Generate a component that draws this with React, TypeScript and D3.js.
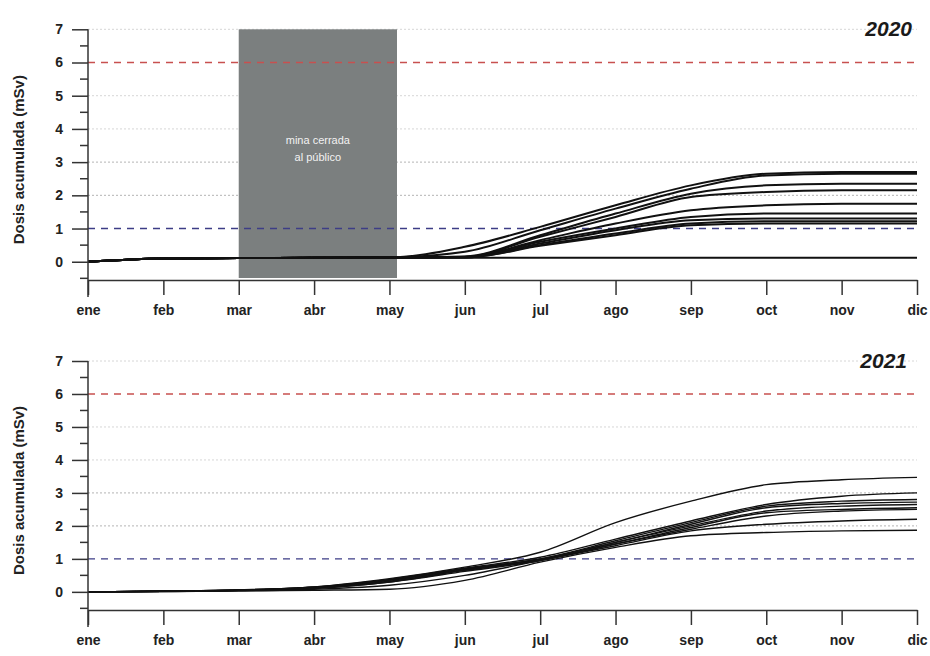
import React, { useEffect, useRef } from 'react';
import * as d3 from 'd3';

const months = ['ene', 'feb', 'mar', 'abr', 'may', 'jun', 'jul', 'ago', 'sep', 'oct', 'nov', 'dic'];
const yTicks = [0, 1, 2, 3, 4, 5, 6, 7];
const yMinorTicks = [-0.5, 0.5, 1.5, 2.5, 3.5, 4.5, 5.5, 6.5];
const gridLevels = [2, 3, 4, 5, 7];
const limitLow = 1;
const limitHigh = 6;

// 2020: mine closed from march to may
const closedFrom = 2;
const closedTo = 4.1;
const closedLabel = ['mina cerrada', 'al público'];

const d2020a = [0, 0.1, 0.11, 0.12, 0.13, 0.45, 1.05, 1.7, 2.3, 2.65, 2.7, 2.7];
const d2020b = [0, 0.1, 0.11, 0.12, 0.13, 0.3, 0.95, 1.6, 2.2, 2.6, 2.65, 2.65];
const d2020c = [0, 0.1, 0.11, 0.12, 0.13, 0.16, 0.8, 1.45, 2.05, 2.3, 2.35, 2.35];
const d2020d = [0, 0.1, 0.11, 0.12, 0.13, 0.15, 0.75, 1.35, 1.95, 2.1, 2.15, 2.15];
const d2020e = [0, 0.1, 0.11, 0.12, 0.13, 0.14, 0.65, 1.15, 1.55, 1.7, 1.75, 1.75];
const d2020f = [0, 0.1, 0.11, 0.12, 0.13, 0.14, 0.6, 1.0, 1.35, 1.45, 1.45, 1.45];
const d2020g = [0, 0.1, 0.11, 0.12, 0.13, 0.14, 0.55, 0.95, 1.25, 1.3, 1.3, 1.3];
const d2020h = [0, 0.1, 0.11, 0.12, 0.13, 0.13, 0.5, 0.85, 1.15, 1.22, 1.22, 1.22];
const d2020i = [0, 0.1, 0.11, 0.12, 0.13, 0.13, 0.48, 0.8, 1.1, 1.15, 1.15, 1.15];
const d2020j = [0, 0.1, 0.11, 0.12, 0.12, 0.12, 0.12, 0.12, 0.12, 0.12, 0.12, 0.12];

const d2021a = [0, 0.02, 0.06, 0.15, 0.4, 0.75, 1.2, 2.1, 2.75, 3.25, 3.4, 3.47];
const d2021b = [0, 0.02, 0.06, 0.15, 0.38, 0.72, 1.05, 1.6, 2.15, 2.65, 2.9, 3.0];
const d2021c = [0, 0.02, 0.05, 0.14, 0.36, 0.7, 1.0, 1.55, 2.1, 2.6, 2.75, 2.8];
const d2021d = [0, 0.02, 0.05, 0.13, 0.35, 0.68, 1.0, 1.5, 2.05, 2.55, 2.68, 2.72];
const d2021e = [0, 0.02, 0.05, 0.12, 0.32, 0.66, 0.98, 1.5, 2.0, 2.45, 2.6, 2.65];
const d2021f = [0, 0.02, 0.05, 0.12, 0.3, 0.65, 0.97, 1.45, 1.95, 2.4, 2.5, 2.55];
const d2021g = [0, 0.02, 0.04, 0.1, 0.3, 0.62, 0.95, 1.45, 1.9, 2.3, 2.45, 2.5];
const d2021h = [0, 0.01, 0.03, 0.08, 0.2, 0.5, 0.95, 1.4, 1.85, 2.05, 2.15, 2.2];
const d2021i = [0, 0.01, 0.03, 0.05, 0.08, 0.35, 0.9, 1.35, 1.7, 1.8, 1.85, 1.87];

const series2020 = [d2020a, d2020b, d2020c, d2020d, d2020e, d2020f, d2020g, d2020h, d2020i, d2020j];
const series2021 = [d2021a, d2021b, d2021c, d2021d, d2021e, d2021f, d2021g, d2021h, d2021i];

const FONT = '"Liberation Sans", Arial, sans-serif';

const drawPanel = (svg, opts) => {
  const { top, bottom, left, right, year, series, closed, yearX, yearY, lineWidth } = opts;

  const x = d3.scaleLinear().domain([0, months.length - 1]).range([left, right]);
  const y = d3.scaleLinear().domain([-0.55, 7]).range([bottom, top]);

  const g = svg.append('g');

  // light grid
  g.selectAll('.grid')
    .data(gridLevels)
    .enter()
    .append('line')
    .attr('x1', left)
    .attr('x2', right)
    .attr('y1', d => y(d))
    .attr('y2', d => y(d))
    .attr('stroke', d => (d === 2 || d === 3 ? '#b4b4b4' : '#d6d6d6'))
    .attr('stroke-width', 1)
    .attr('stroke-dasharray', '2,2');

  if (closed) {
    g.append('rect')
      .attr('x', x(closedFrom))
      .attr('y', y(7))
      .attr('width', x(closedTo) - x(closedFrom))
      .attr('height', y(-0.55) - y(7) - 2)
      .attr('fill', '#7b7f7f');

    g.selectAll('.closedtxt')
      .data(closedLabel)
      .enter()
      .append('text')
      .attr('x', (x(closedFrom) + x(closedTo)) / 2)
      .attr('y', (d, i) => y(3.55) + i * 17)
      .attr('text-anchor', 'middle')
      .attr('fill', '#f2f2f2')
      .attr('font-family', FONT)
      .attr('font-size', 11)
      .text(d => d);
  }

  // limits
  g.append('line')
    .attr('x1', left).attr('x2', right)
    .attr('y1', y(limitHigh)).attr('y2', y(limitHigh))
    .attr('stroke', '#c8504f')
    .attr('stroke-width', 1.4)
    .attr('stroke-dasharray', '7,6');

  g.append('line')
    .attr('x1', left).attr('x2', right)
    .attr('y1', y(limitLow)).attr('y2', y(limitLow))
    .attr('stroke', '#3d3d86')
    .attr('stroke-width', 1.4)
    .attr('stroke-dasharray', '7,6');

  const line = d3
    .line()
    .x((d, i) => x(i))
    .y(d => y(d))
    .curve(d3.curveMonotoneX);

  g.selectAll('.series')
    .data(series)
    .enter()
    .append('path')
    .attr('d', line)
    .attr('fill', 'none')
    .attr('stroke', '#111')
    .attr('stroke-width', lineWidth);

  // x axis
  const xAxis = d3
    .axisBottom(x)
    .tickValues(d3.range(months.length))
    .tickFormat(i => months[i])
    .tickSize(15)
    .tickSizeOuter(0)
    .tickPadding(10);

  const xa = g.append('g').attr('transform', `translate(0,${bottom})`).call(xAxis);
  xa.select('.domain').attr('stroke', '#333').attr('stroke-width', 1.5);
  xa.selectAll('.tick line').attr('stroke', '#333').attr('stroke-width', 1.5);
  xa.selectAll('text')
    .attr('font-family', FONT)
    .attr('font-size', 14)
    .attr('font-weight', 'bold')
    .attr('fill', '#222');

  // y axis
  const yAxis = d3.axisLeft(y).tickValues(yTicks).tickSize(16).tickSizeOuter(0).tickPadding(9);
  const ya = g.append('g').attr('transform', `translate(${left},0)`).call(yAxis);
  ya.select('.domain')
    .attr('d', `M0,${y(7)}V${bottom + 17}`)
    .attr('stroke', '#333')
    .attr('stroke-width', 1.5);
  ya.selectAll('.tick line').attr('stroke', '#333').attr('stroke-width', 1.5);
  ya.selectAll('text')
    .attr('font-family', FONT)
    .attr('font-size', 14)
    .attr('font-weight', 'bold')
    .attr('fill', '#222');

  g.selectAll('.minor')
    .data(yMinorTicks)
    .enter()
    .append('line')
    .attr('x1', left - 8)
    .attr('x2', left)
    .attr('y1', d => y(d))
    .attr('y2', d => y(d))
    .attr('stroke', '#333')
    .attr('stroke-width', 1.5);

  g.append('text')
    .attr('transform', `translate(24,${(top + bottom) / 2 + 5}) rotate(-90)`)
    .attr('text-anchor', 'middle')
    .attr('font-family', FONT)
    .attr('font-size', 15)
    .attr('font-weight', 'bold')
    .attr('fill', '#222')
    .text('Dosis acumulada (mSv)');

  g.append('text')
    .attr('x', yearX)
    .attr('y', yearY)
    .attr('text-anchor', 'end')
    .attr('font-family', FONT)
    .attr('font-size', 21)
    .attr('font-weight', 'bold')
    .attr('font-style', 'italic')
    .attr('fill', '#1a1a1a')
    .text(year);
};

const App = () => {
  const svgRef = useRef(null);

  useEffect(() => {
    const svg = d3.select(svgRef.current);
    svg.selectAll('*').remove();

    drawPanel(svg, {
      top: 29.3, bottom: 280, left: 88, right: 917,
      year: '2020', series: series2020, closed: true,
      yearX: 912, yearY: 36, lineWidth: 2
    });
    drawPanel(svg, {
      top: 361, bottom: 610, left: 88, right: 917,
      year: '2021', series: series2021, closed: false,
      yearX: 907, yearY: 368, lineWidth: 1.4
    });
  }, []);

  return (
    <div style={{ position: 'absolute', left: 0, top: 0 }}>
      <svg ref={svgRef} width={930} height={656} style={{ display: 'block', background: '#fff' }} />
    </div>
  );
};

export default App;
